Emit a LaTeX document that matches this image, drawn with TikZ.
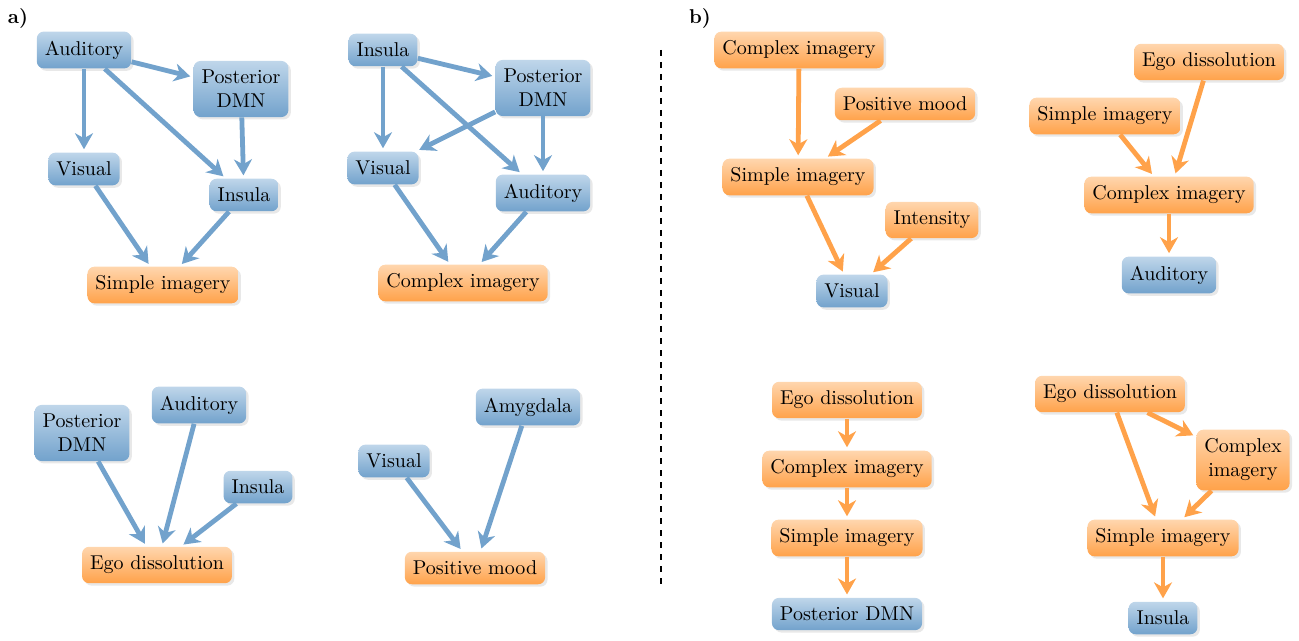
\documentclass[tikz,border=0pt]{standalone}
\usetikzlibrary{arrows.meta,shadows}
\definecolor{brainblue}{HTML}{72A2CC}
\definecolor{brainlight}{HTML}{BFD6EA}
\definecolor{tripdark}{HTML}{FFA24A}
\definecolor{triplight}{HTML}{FFD6AE}
\tikzset{
  box/.style={rounded corners=3.5pt, inner xsep=4pt, inner ysep=4.6pt, align=center,
    drop shadow={opacity=0.18, shadow xshift=1.2pt, shadow yshift=-1.2pt}},
  region/.style={box, top color=brainlight, bottom color=brainblue},
  percept/.style={box, top color=triplight, bottom color=tripdark},
  blink/.style={line width=2.4pt, draw=brainblue, -{Stealth[length=8pt,width=9pt,inset=2.5pt]}, shorten >=1.5pt},
  olink/.style={line width=2.4pt, draw=tripdark, -{Stealth[length=8pt,width=9pt,inset=2.5pt]}, shorten >=1.5pt}
}
\begin{document}
\begin{tikzpicture}[x=0.5pt, y=-0.5pt]
  \useasboundingbox (0,0) rectangle (1299,641);

  % Panel labels
  \node (labA) at (18,18) {\textbf{a)}};
  \node (labB) at (700,18) {\textbf{b)}};

  % Separator
  \draw[dashed, thick] (661,50) -- (661,585);

  % a) top left
  \node[region] (a1aud) at (84,50) {Auditory};
  \node[region] (a1dmn) at (241,89) {Posterior\\DMN};
  \node[region] (a1vis) at (84,169) {Visual};
  \node[region] (a1ins) at (244,195) {Insula};
  \node[percept] (a1sim) at (163,285) {Simple imagery};
  \draw[blink] (a1aud) -- (a1dmn);
  \draw[blink] (a1aud) -- (a1vis);
  \draw[blink] (a1aud) -- (a1ins);
  \draw[blink] (a1dmn) -- (a1ins);
  \draw[blink] (a1vis) -- (a1sim);
  \draw[blink] (a1ins) -- (a1sim);

  % a) top right
  \node[region] (a2ins) at (383,50) {Insula};
  \node[region] (a2dmn) at (543,88) {Posterior\\DMN};
  \node[region] (a2vis) at (383,168) {Visual};
  \node[region] (a2aud) at (543,193) {Auditory};
  \node[percept] (a2com) at (463,283) {Complex imagery};
  \draw[blink] (a2ins) -- (a2dmn);
  \draw[blink] (a2ins) -- (a2vis);
  \draw[blink] (a2ins) -- (a2aud);
  \draw[blink] (a2dmn) -- (a2vis);
  \draw[blink] (a2dmn) -- (a2aud);
  \draw[blink] (a2vis) -- (a2com);
  \draw[blink] (a2aud) -- (a2com);

  % a) bottom left
  \node[region] (a3dmn) at (82,433) {Posterior\\DMN};
  \node[region] (a3aud) at (199,405) {Auditory};
  \node[region] (a3ins) at (258,487) {Insula};
  \node[percept] (a3ego) at (157,565) {Ego dissolution};
  \draw[blink] (a3dmn) -- (a3ego);
  \draw[blink] (a3aud) -- (a3ego);
  \draw[blink] (a3ins) -- (a3ego);

  % a) bottom right
  \node[region] (a4vis) at (394,461) {Visual};
  \node[region] (a4amy) at (528,407) {Amygdala};
  \node[percept] (a4pos) at (475,568) {Positive mood};
  \draw[blink] (a4vis) -- (a4pos);
  \draw[blink] (a4amy) -- (a4pos);

  % b) top left
  \node[percept] (b1com) at (799,50) {Complex imagery};
  \node[percept] (b1pos) at (905,104) {Positive mood};
  \node[percept] (b1sim) at (798,177) {Simple imagery};
  \node[percept] (b1int) at (932,220) {Intensity};
  \node[region] (b1vis) at (852,291) {Visual};
  \draw[olink] (b1com) -- (b1sim);
  \draw[olink] (b1pos) -- (b1sim);
  \draw[olink] (b1sim) -- (b1vis);
  \draw[olink] (b1int) -- (b1vis);

  % b) top right
  \node[percept] (b2ego) at (1209,62) {Ego dissolution};
  \node[percept] (b2sim) at (1105,116) {Simple imagery};
  \node[percept] (b2com) at (1169,195) {Complex imagery};
  \node[region] (b2aud) at (1169,275) {Auditory};
  \draw[olink] (b2ego) -- (b2com);
  \draw[olink] (b2sim) -- (b2com);
  \draw[olink] (b2com) -- (b2aud);

  % b) bottom left
  \node[percept] (b3ego) at (847,400) {Ego dissolution};
  \node[percept] (b3com) at (847,469) {Complex imagery};
  \node[percept] (b3sim) at (847,538) {Simple imagery};
  \node[region] (b3dmn) at (847,614) {Posterior DMN};
  \draw[olink] (b3ego) -- (b3com);
  \draw[olink] (b3com) -- (b3sim);
  \draw[olink] (b3sim) -- (b3dmn);

  % b) bottom right
  \node[percept] (b4ego) at (1110,394) {Ego dissolution};
  \node[percept] (b4com) at (1243,460) {Complex\\imagery};
  \node[percept] (b4sim) at (1163,538) {Simple imagery};
  \node[region] (b4ins) at (1163,618) {Insula};
  \draw[olink] (b4ego) -- (b4com);
  \draw[olink] (b4ego) -- (b4sim);
  \draw[olink] (b4com) -- (b4sim);
  \draw[olink] (b4sim) -- (b4ins);
\end{tikzpicture}
\end{document}
